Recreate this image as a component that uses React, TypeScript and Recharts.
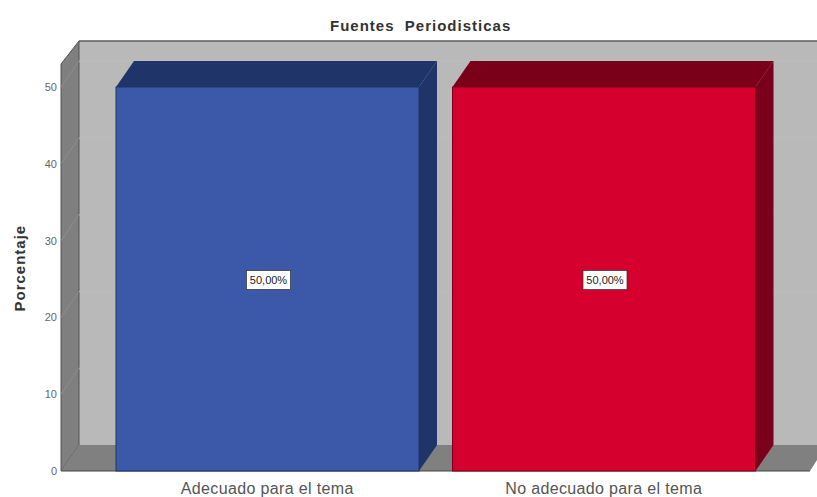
import { Bar, BarChart, LabelList, ReferenceArea, XAxis, YAxis } from "recharts"

const categories = ["Adecuado para el tema", "No adecuado para el tema"]
const percentages = [50, 50]
const percentLabels = ["50,00%", "50,00%"]
const yTicks = [0, 10, 20, 30, 40, 50]
const frontColors = ["#3c58a8", "#d6002e"]
const darkColors = ["#1f3468", "#7a0019"]

const data = categories.map((name, i) => ({ name, value: percentages[i], label: percentLabels[i] }))

// depth of the fake 3D box, in pixels
const DX = 18
const DY = 26
const PAD = 38 // x axis padding, the walls start this far left of the band scale
const CHART_W = 817

// side wall, back wall and floor, sized from the plot area
const Walls = (props: any) => {
  const { y, height } = props
  const x = props.x - PAD
  const right = props.x + props.width + PAD
  const bottom = y + height
  return (
    <g>
      <rect x={x + DX} y={y - DY + 3} width={CHART_W - x - DX} height={height} fill="#b9b9b9" />
      <line x1={x + DX} y1={y - DY + 3} x2={CHART_W} y2={y - DY + 3} stroke="#5c5c5c" strokeWidth={1.5} />
      <polygon
        points={`${x},${y} ${x + DX},${y - DY + 3} ${x + DX},${bottom - DY} ${x},${bottom}`}
        fill="#7f7f7f"
        stroke="#555555"
        strokeWidth={1}
      />
      <polygon
        points={`${x},${bottom} ${x + DX},${bottom - DY} ${CHART_W},${bottom - DY} ${CHART_W},${bottom - 11} ${right},${bottom}`}
        fill="#808080"
      />
      <line x1={x} y1={bottom} x2={right} y2={bottom} stroke="#444444" strokeWidth={1} />
    </g>
  )
}

// faint gridline on the walls, the bottom of a thin band ending at the tick value
const GridTrace = (props: any) => {
  const yPos = props.y + props.height
  const x = props.x - PAD
  return (
    <g fill="none" strokeWidth={1}>
      <line x1={x} y1={yPos} x2={x + DX} y2={yPos - DY} stroke="#8e8e8e" />
      <line x1={x + DX} y1={yPos - DY} x2={CHART_W} y2={yPos - DY} stroke="#bcbcbc" />
    </g>
  )
}

const Bar3D = (props: any) => {
  const { x, y, width, height, index } = props
  const dark = darkColors[index]
  return (
    <g>
      <polygon
        points={`${x},${y} ${x + DX},${y - DY} ${x + width + DX},${y - DY} ${x + width},${y}`}
        fill={dark}
      />
      <polygon
        points={`${x + width},${y} ${x + width + DX},${y - DY} ${x + width + DX},${y + height - DY} ${x + width},${y + height}`}
        fill={dark}
      />
      <rect x={x} y={y} width={width} height={height} fill={frontColors[index]} stroke={dark} strokeWidth={1} />
    </g>
  )
}

const ValueBox = (props: any) => {
  const { x, y, width, height, value } = props
  const cx = x + width / 2 + 1
  const cy = y + height / 2 + 1
  return (
    <g>
      <rect x={cx - 22} y={cy - 9.5} width={44} height={19} fill="#ffffff" stroke="#333333" strokeWidth={0.75} />
      <text x={cx} y={cy + 4} textAnchor="middle" fontSize={11} fill="#222222" fontFamily="Liberation Sans">
        {value}
      </text>
    </g>
  )
}

export default function App() {
  return (
    <div style={{ position: "absolute", left: 0, top: 0, width: CHART_W, height: 497, background: "#fff" }}>
      <div
        style={{
          position: "absolute",
          left: 330,
          top: 17,
          font: "bold 15px 'Liberation Sans'",
          letterSpacing: 1,
          color: "#333",
          whiteSpace: "pre",
        }}
      >
        {"Fuentes  Periodisticas"}
      </div>
      <BarChart
        width={CHART_W}
        height={497}
        data={data}
        barSize={303}
        margin={{ top: 64, right: 7, bottom: 0, left: 21 }}
      >
        <ReferenceArea y1={0} y2={53} shape={<Walls />} />
        {yTicks.slice(1).map((t) => (
          <ReferenceArea key={t} y1={t} y2={t + 1} shape={<GridTrace />} />
        ))}
        <XAxis
          dataKey="name"
          height={26}
          padding={{ left: PAD, right: PAD }}
          axisLine={false}
          tickLine={false}
          tick={{ fontSize: 16, fill: "#555", fontFamily: "Liberation Sans", letterSpacing: 0.35 }}
          tickSize={4}
          tickMargin={8}
          interval={0}
        />
        <YAxis
          width={40}
          domain={[0, 53]}
          ticks={yTicks}
          axisLine={false}
          tickLine={false}
          tick={{ fontSize: 11, fill: "#666", fontFamily: "Liberation Sans" }}
          tickSize={4}
          tickMargin={0}
          label={{
            value: "Porcentaje",
            angle: -90,
            position: "insideLeft",
            offset: 0,
            dx: -1,
            dy: 44,
            style: { fontSize: 15, fontWeight: "bold", fill: "#333", fontFamily: "Liberation Sans", letterSpacing: 1 },
          }}
        />
        <Bar dataKey="value" shape={<Bar3D />} isAnimationActive={false}>
          <LabelList dataKey="label" content={<ValueBox />} />
        </Bar>
      </BarChart>
    </div>
  )
}
